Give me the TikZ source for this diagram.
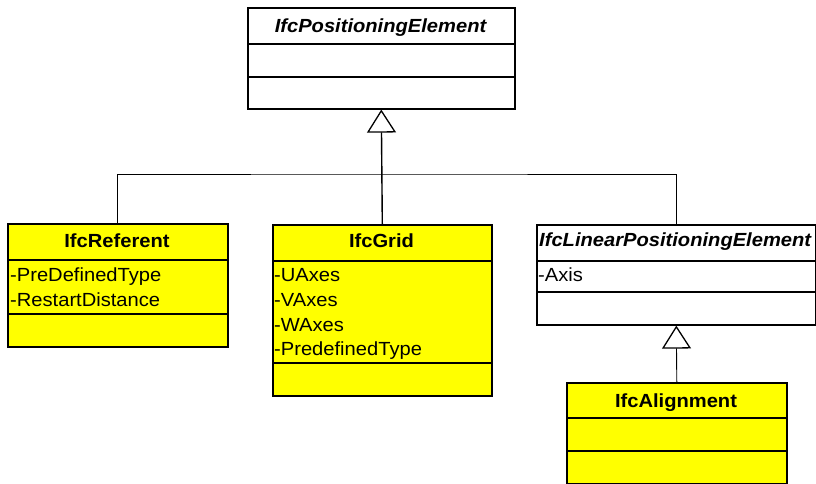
\documentclass[tikz,border=0pt]{standalone}
\usepackage{fontspec}
\setmainfont[FakeStretch=1.06]{Liberation Sans}
\usetikzlibrary{arrows.meta}
\definecolor{clsyellow}{RGB}{255,255,0}
\tikzset{
  classbox/.style={draw, line width=1.6pt, inner sep=0pt, anchor=north west},
  ybox/.style={classbox, fill=clsyellow},
  wbox/.style={classbox, fill=white},
  div/.style={line width=1.6pt},
  ttl/.style={font=\fontsize{19}{22}\selectfont\bfseries, anchor=base, inner sep=0pt},
  ittl/.style={font=\fontsize{19}{22}\selectfont\bfseries\itshape, anchor=base, inner sep=0pt},
  attr/.style={font=\fontsize{19}{22}\selectfont, anchor=base west, inner sep=0pt},
  conn/.style={line width=0.9pt},
  gen/.style={line width=1.4pt, -{Triangle[open, length=23pt, width=29pt, line width=1.3pt]}},
}
\begin{document}
\begin{tikzpicture}[x=1pt, y=-1pt]
\useasboundingbox (0,0) rectangle (816,484);
% top abstract class
\node (pos) [wbox, minimum width=267pt, minimum height=101pt] at (247,7) {};
\draw[div] (247,44) -- (514,44);
\draw[div] (247,77) -- (514,77);
\node (posT) [ittl] at (380.5,33) {IfcPositioningElement};
% IfcReferent
\node (ref) [ybox, minimum width=220pt, minimum height=123pt] at (7,223) {};
\draw[div] (7,260) -- (227,260);
\draw[div] (7,314) -- (227,314);
\node (refT) [ttl] at (117,247) {IfcReferent};
\node (refA1) [attr] at (10,281) {-PreDefinedType};
\node (refA2) [attr] at (10,306) {-RestartDistance};
% IfcGrid
\node (grid) [ybox, minimum width=219pt, minimum height=171pt] at (272,224) {};
\draw[div] (272,261) -- (491,261);
\draw[div] (272,363) -- (491,363);
\node (gridT) [ttl] at (381.5,247) {IfcGrid};
\node (gridA1) [attr] at (274,281) {-UAxes};
\node (gridA2) [attr] at (274,306) {-VAxes};
\node (gridA3) [attr] at (274,331) {-WAxes};
\node (gridA4) [attr] at (274,355) {-PredefinedType};
% IfcLinearPositioningElement
\node (lin) [wbox, minimum width=279pt, minimum height=100pt] at (536,224) {};
\draw[div] (536,261) -- (815,261);
\draw[div] (536,292) -- (815,292);
\node (linT) [ittl, anchor=base west] at (539,246) {IfcLinearPositioningElement};
\node (linA1) [attr] at (538,281) {-Axis};
% IfcAlignment
\node (ali) [ybox, minimum width=220pt, minimum height=101pt] at (566,382) {};
\draw[div] (566,418) -- (786,418);
\draw[div] (566,451) -- (786,451);
\node (aliT) [ttl] at (676,407) {IfcAlignment};
% connectors
\coordinate (jn) at (381.5,174);
\draw[conn] (ref.north) |- (jn) -| (lin.north);
\draw[gen] (grid.north) -- (pos.south);
\draw[gen, line width=0.9pt] (ali.north) -- (lin.south);
\end{tikzpicture}
\end{document}
